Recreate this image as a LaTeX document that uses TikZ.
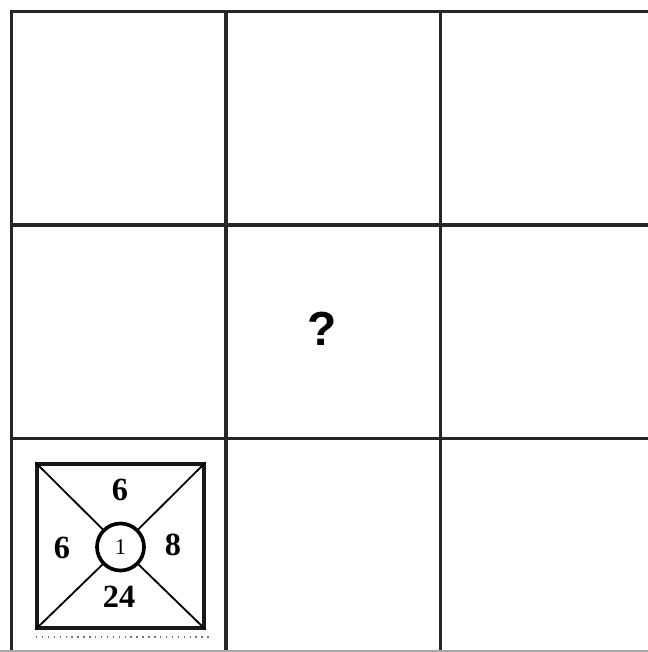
\documentclass[tikz,border=0pt]{standalone}
\usepackage{fontspec}
\setmainfont{Liberation Serif}
\setsansfont{Liberation Sans}
\usetikzlibrary{positioning}

\tikzset{
    gridline/.style={line width=2.3pt, black!85},
    numlabel/.style={font=\fontsize{23}{23}\selectfont\bfseries, inner sep=0pt},
}

\begin{document}
\begin{tikzpicture}[x=0.025cm, y=0.025cm]
    \def\cw{214.5}
    \def\rh{213.5}
    \useasboundingbox (0,0) rectangle (648,-652);
    \clip (0,0) rectangle (648,-652);
    % grid
    \begin{scope}[shift={(11.5,-11.5)}]
        \draw[gridline] (0,0) grid[xstep=\cw, ystep=\rh] (3*\cw, -2.99*\rh);
        \draw[gridline, line cap=rect] (0,0) -- (3.2*\cw, 0);
        \foreach \i in {0,1,2} {
            \draw[gridline] (\i*\cw, 0) -- (\i*\cw, -3.2*\rh);
        }
    \end{scope}
    \coordinate (edgel) at (0, -651);
    \coordinate (edger) at (648, -651);
    \draw[line width=0.8pt, black!35] (edgel) -- (edger);
    % question mark
    \node (qmark) at (322, -329) {\fontsize{34}{34}\selectfont\sffamily\bfseries ?};
    % sample cell
    \node[draw, line width=2.2pt, black!90, minimum width=4.175cm, minimum height=4.1cm, inner sep=0pt] (cell) at (120.5, -546) {};
    \node[circle, draw, line width=2.6pt, fill=white, minimum size=1.175cm, inner sep=0pt] (hub) at (120.5, -547) {};
    \node (hubnum) at (hub) {\fontsize{16}{16}\selectfont 1};
    \draw[line width=1.3pt] (cell.north west) -- (hub);
    \draw[line width=1.3pt] (cell.north east) -- (hub);
    \draw[line width=1.3pt] (cell.south west) -- (hub);
    \draw[line width=1.3pt] (cell.south east) -- (hub);
    \node[numlabel] (ntop) at (120, -490) {6};
    \node[numlabel] (nleft) at (62, -548) {6};
    \node[numlabel] (nright) at (173, -545) {8};
    \node[numlabel] (nbottom) at (119, -597) {24};
    \coordinate (dotl) at (36, -637);
    \coordinate (dotr) at (210, -637);
    \draw[line width=1.1pt, black!55, dash pattern=on 1pt off 3.2pt] (dotl) -- (dotr);
\end{tikzpicture}
\end{document}
